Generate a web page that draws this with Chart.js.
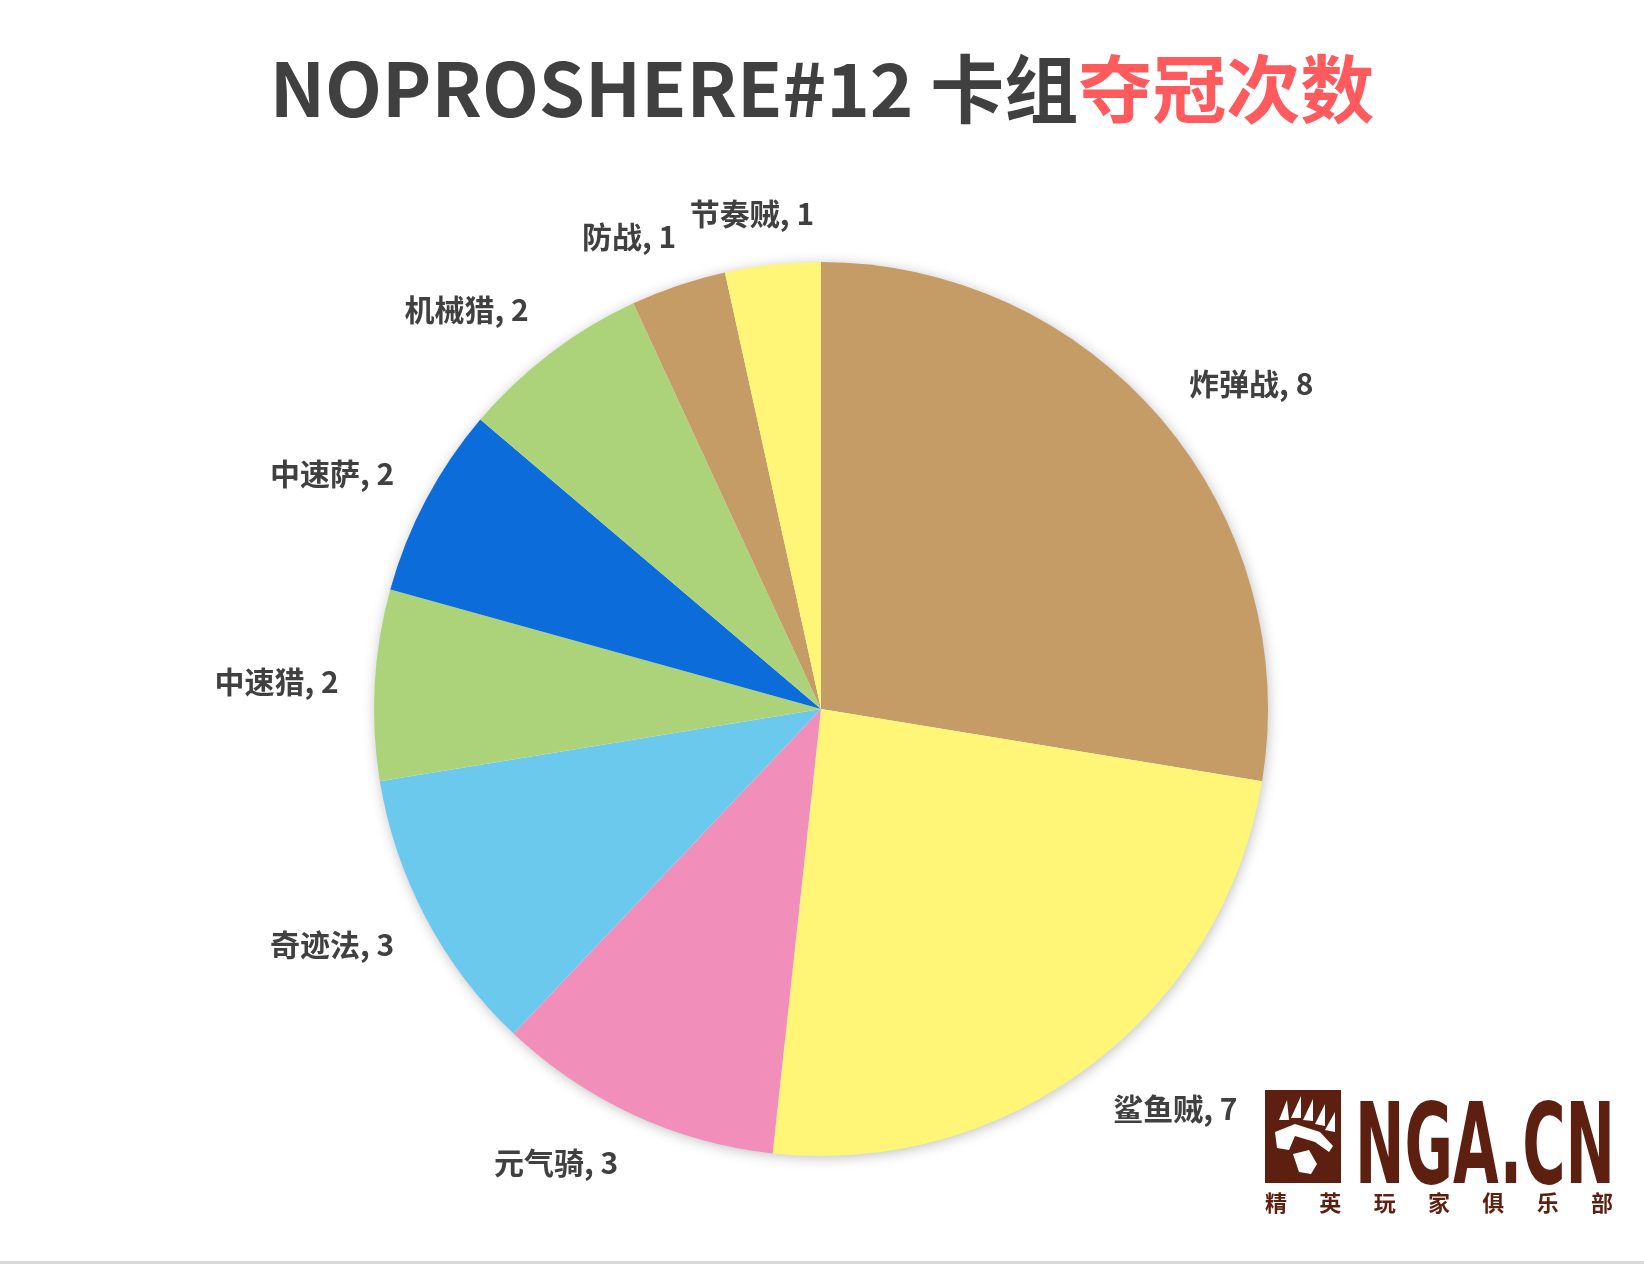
<!DOCTYPE html>
<html>
<head>
<meta charset="utf-8">
<script src="https://cdn.jsdelivr.net/npm/chart.js@4.4.0/dist/chart.umd.min.js"></script>
<style>
  html, body { margin: 0; padding: 0; background: #fff; }
  body { width: 1644px; height: 1264px; position: relative; overflow: hidden; font-family: "Noto Sans CJK SC", sans-serif; }
  #title { position: absolute; left: 0; top: 48px; width: 1644px; text-align: center; font-size: 74px; font-weight: bold; color: #404040; line-height: 1; white-space: nowrap; }
  #title .hot { color: #FF5B5F; }
  #chart { position: absolute; left: 0; top: 0; }
  #logo { position: absolute; left: 1265px; top: 1090px; }
  #baseline { position: absolute; left: 0; bottom: 0; width: 1644px; height: 3px; background: #d9d9d9; }
</style>
</head>
<body>
<canvas id="chart" width="1644" height="1264"></canvas>
<div id="title">NOPROSHERE#12 卡组<span class="hot">夺冠次数</span></div>

<svg id="logo" width="360" height="130" viewBox="0 0 360 130">
  <rect x="0" y="0" width="76" height="93" fill="#5C1F10"/>
  <!-- claws -->
  <path d="M14 30 L22 10 L24 30 Z" fill="#fff"/>
  <path d="M26 28 L36 6 L36 28 Z" fill="#fff"/>
  <path d="M38 30 L48 9 L48 31 Z" fill="#fff"/>
  <path d="M50 34 L60 14 L60 36 Z" fill="#fff"/>
  <path d="M60 40 L70 22 L70 42 Z" fill="#fff"/>
  <!-- pad -->
  <path d="M10 42 L30 34 L55 42 L68 56 L64 62 L50 52 L30 46 L24 60 L12 58 Z" fill="#fff"/>
  <path d="M28 64 L44 60 L52 74 L46 84 L34 82 Z" fill="#fff"/>
  <text x="90" y="93" font-family="DejaVu Sans" font-weight="bold" font-size="112" textLength="260" lengthAdjust="spacingAndGlyphs" fill="#5C1F10">NGA.CN</text>
  <text x="0" y="121" font-family="Noto Sans CJK SC" font-weight="bold" font-size="22" textLength="348" fill="#5C1F10">精英玩家俱乐部</text>
</svg>
<div id="baseline"></div>

<script>
const categories = ['炸弹战', '鲨鱼贼', '元气骑', '奇迹法', '中速猎', '中速萨', '机械猎', '防战', '节奏贼'];
const wins = [8, 7, 3, 3, 2, 2, 2, 1, 1];
const sliceColors = ['#C59B66', '#FFF577', '#F28EBA', '#6CC9EE', '#ADD37A', '#0B6CDA', '#ADD37A', '#C59B66', '#FFF577'];

// soft shadow under the whole pie
const pieShadow = {
  id: 'pieShadow',
  beforeDatasetsDraw(chart) {
    const arc = chart.getDatasetMeta(0).data[0];
    if (!arc) return;
    const ctx = chart.ctx;
    ctx.save();
    ctx.shadowColor = 'rgba(0,0,0,0.28)';
    ctx.shadowBlur = 14;
    ctx.shadowOffsetX = 1;
    ctx.shadowOffsetY = 2;
    ctx.fillStyle = '#fff';
    ctx.beginPath();
    ctx.arc(arc.x, arc.y, arc.outerRadius - 1, 0, Math.PI * 2);
    ctx.fill();
    ctx.restore();
  }
};

const clamp = v => Math.max(-1, Math.min(1, v));

// "name, value" labels outside each slice, box pushed away from the pie
const outsideLabels = {
  id: 'outsideLabels',
  afterDatasetsDraw(chart) {
    const ctx = chart.ctx;
    const meta = chart.getDatasetMeta(0);
    ctx.save();
    ctx.font = 'bold 30px "Noto Sans CJK SC"';
    ctx.fillStyle = '#404040';
    ctx.textAlign = 'center';
    ctx.textBaseline = 'middle';
    meta.data.forEach((arc, i) => {
      const p = arc.getProps(['x', 'y', 'startAngle', 'endAngle', 'outerRadius'], true);
      const mid = (p.startAngle + p.endAngle) / 2;
      const text = categories[i] + ', ' + wins[i];
      const w = ctx.measureText(text).width;
      const r = p.outerRadius + 36;
      const lx = p.x + Math.cos(mid) * r + clamp(Math.cos(mid) * 2.5) * w / 2;
      const ly = p.y + Math.sin(mid) * r + clamp(Math.sin(mid) * 1.3) * 15;
      ctx.fillText(text, lx, ly);
    });
    ctx.restore();
  }
};

new Chart(document.getElementById('chart').getContext('2d'), {
  type: 'pie',
  data: {
    labels: categories,
    datasets: [{
      data: wins,
      backgroundColor: sliceColors,
      borderWidth: 0
    }]
  },
  options: {
    responsive: false,
    animation: false,
    layout: { padding: { top: 262, bottom: 108, left: 374, right: 376 } },
    plugins: {
      legend: { display: false },
      tooltip: { enabled: false }
    }
  },
  plugins: [pieShadow, outsideLabels]
});
</script>
</body>
</html>
